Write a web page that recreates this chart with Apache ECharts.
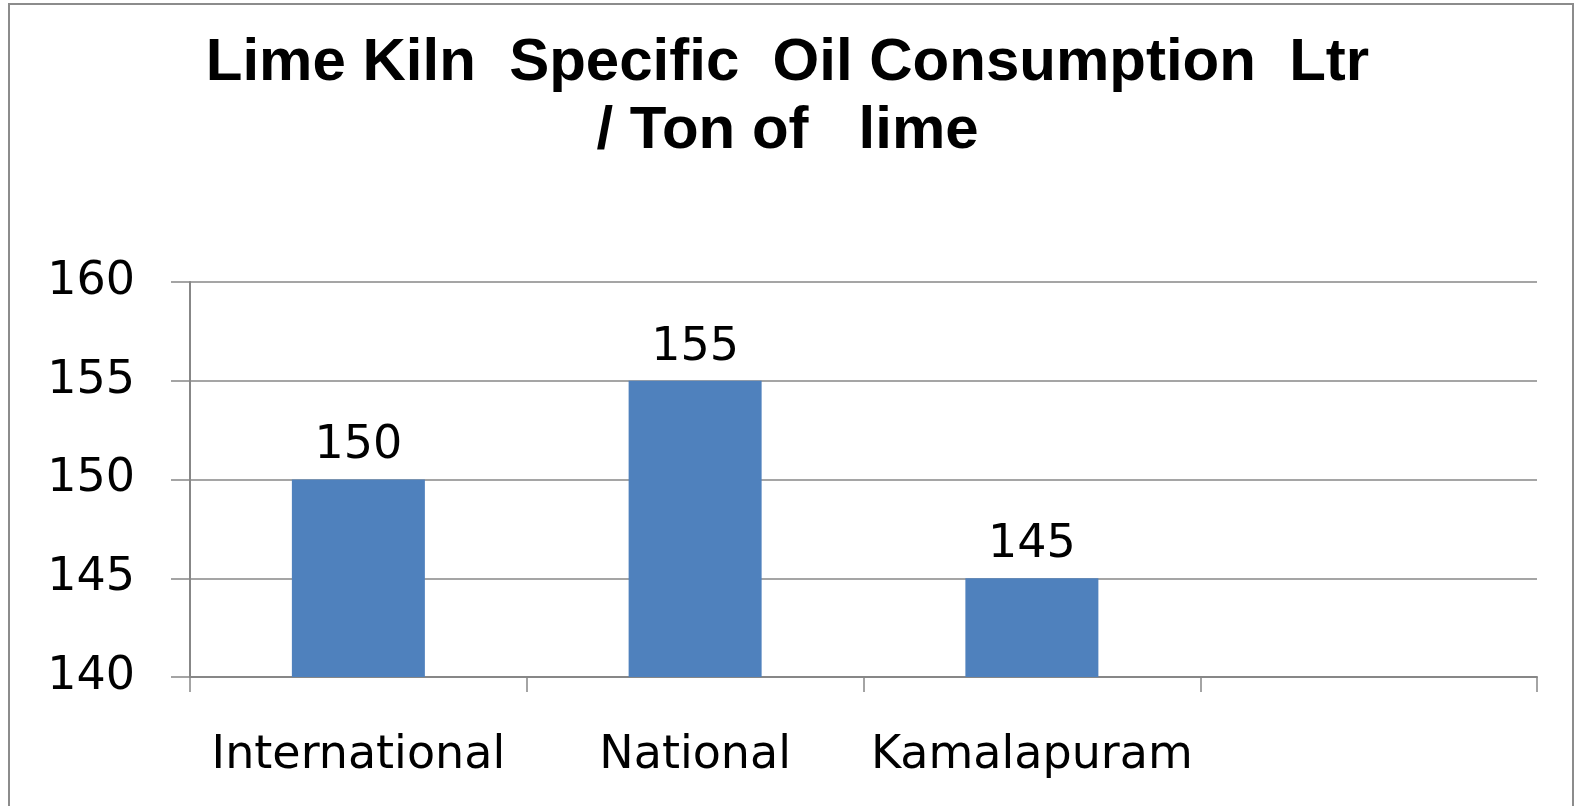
<!DOCTYPE html>
<html>
<head>
<meta charset="utf-8">
<title>Lime Kiln Specific Oil Consumption</title>
<script src="https://cdn.jsdelivr.net/npm/echarts@6/dist/echarts.min.js"></script>
<style>
  html, body { margin: 0; padding: 0; background: #fff; }
  #chart { width: 1575px; height: 806px; }
</style>
</head>
<body>
<div id="chart"></div>
<script>
const titleLines = ['Lime Kiln  Specific  Oil Consumption  Ltr', '/ Ton of   lime'];
const categories = ['International', 'National', 'Kamalapuram', ''];
const consumption = [150, 155, 145, '-'];
const yMin = 140;
const yMax = 160;
const yStep = 5;

const myChart = echarts.init(document.getElementById('chart'));

const axisGray = '#878787';
const labelFont = 'DejaVu Sans';

const option = {
    backgroundColor: '#ffffff',
    animation: false,
    title: {
        text: titleLines.join('\n'),
        left: 'center',
        top: 24,
        textStyle: {
            fontFamily: 'Liberation Sans',
            fontWeight: 'bold',
            fontSize: 60,
            lineHeight: 68,
            color: '#000'
        }
    },
    graphic: [{
        type: 'rect',
        silent: true,
        shape: { x: 9, y: 4, width: 1564, height: 830 },
        style: { fill: 'none', stroke: '#8c8c8c', lineWidth: 2 }
    }],
    grid: {
        left: 190,
        right: 38,
        top: 282,
        bottom: 129
    },
    xAxis: {
        type: 'category',
        data: categories,
        boundaryGap: true,
        axisLine: { show: true, lineStyle: { color: axisGray, width: 2 } },
        axisTick: { show: true, length: 15, lineStyle: { color: axisGray, width: 1.5 } },
        axisLabel: {
            margin: 56,
            fontFamily: labelFont,
            fontSize: 46,
            color: '#000',
            interval: 0
        },
        splitLine: { show: false }
    },
    yAxis: {
        type: 'value',
        min: yMin,
        max: yMax,
        interval: yStep,
        axisLine: { show: true, lineStyle: { color: axisGray, width: 2 } },
        axisTick: { show: true, length: 19, lineStyle: { color: axisGray, width: 1.5 } },
        axisLabel: {
            margin: 55,
            fontFamily: labelFont,
            fontSize: 46,
            color: '#000'
        },
        splitLine: { show: true, lineStyle: { color: axisGray, width: 1.5 } }
    },
    series: [{
        type: 'bar',
        data: consumption,
        barWidth: 133,
        itemStyle: { color: '#4f81bd' },
        label: {
            show: true,
            position: 'top',
            distance: 10,
            fontFamily: labelFont,
            fontSize: 46,
            color: '#000'
        }
    }]
};

myChart.setOption(option);
</script>
</body>
</html>
